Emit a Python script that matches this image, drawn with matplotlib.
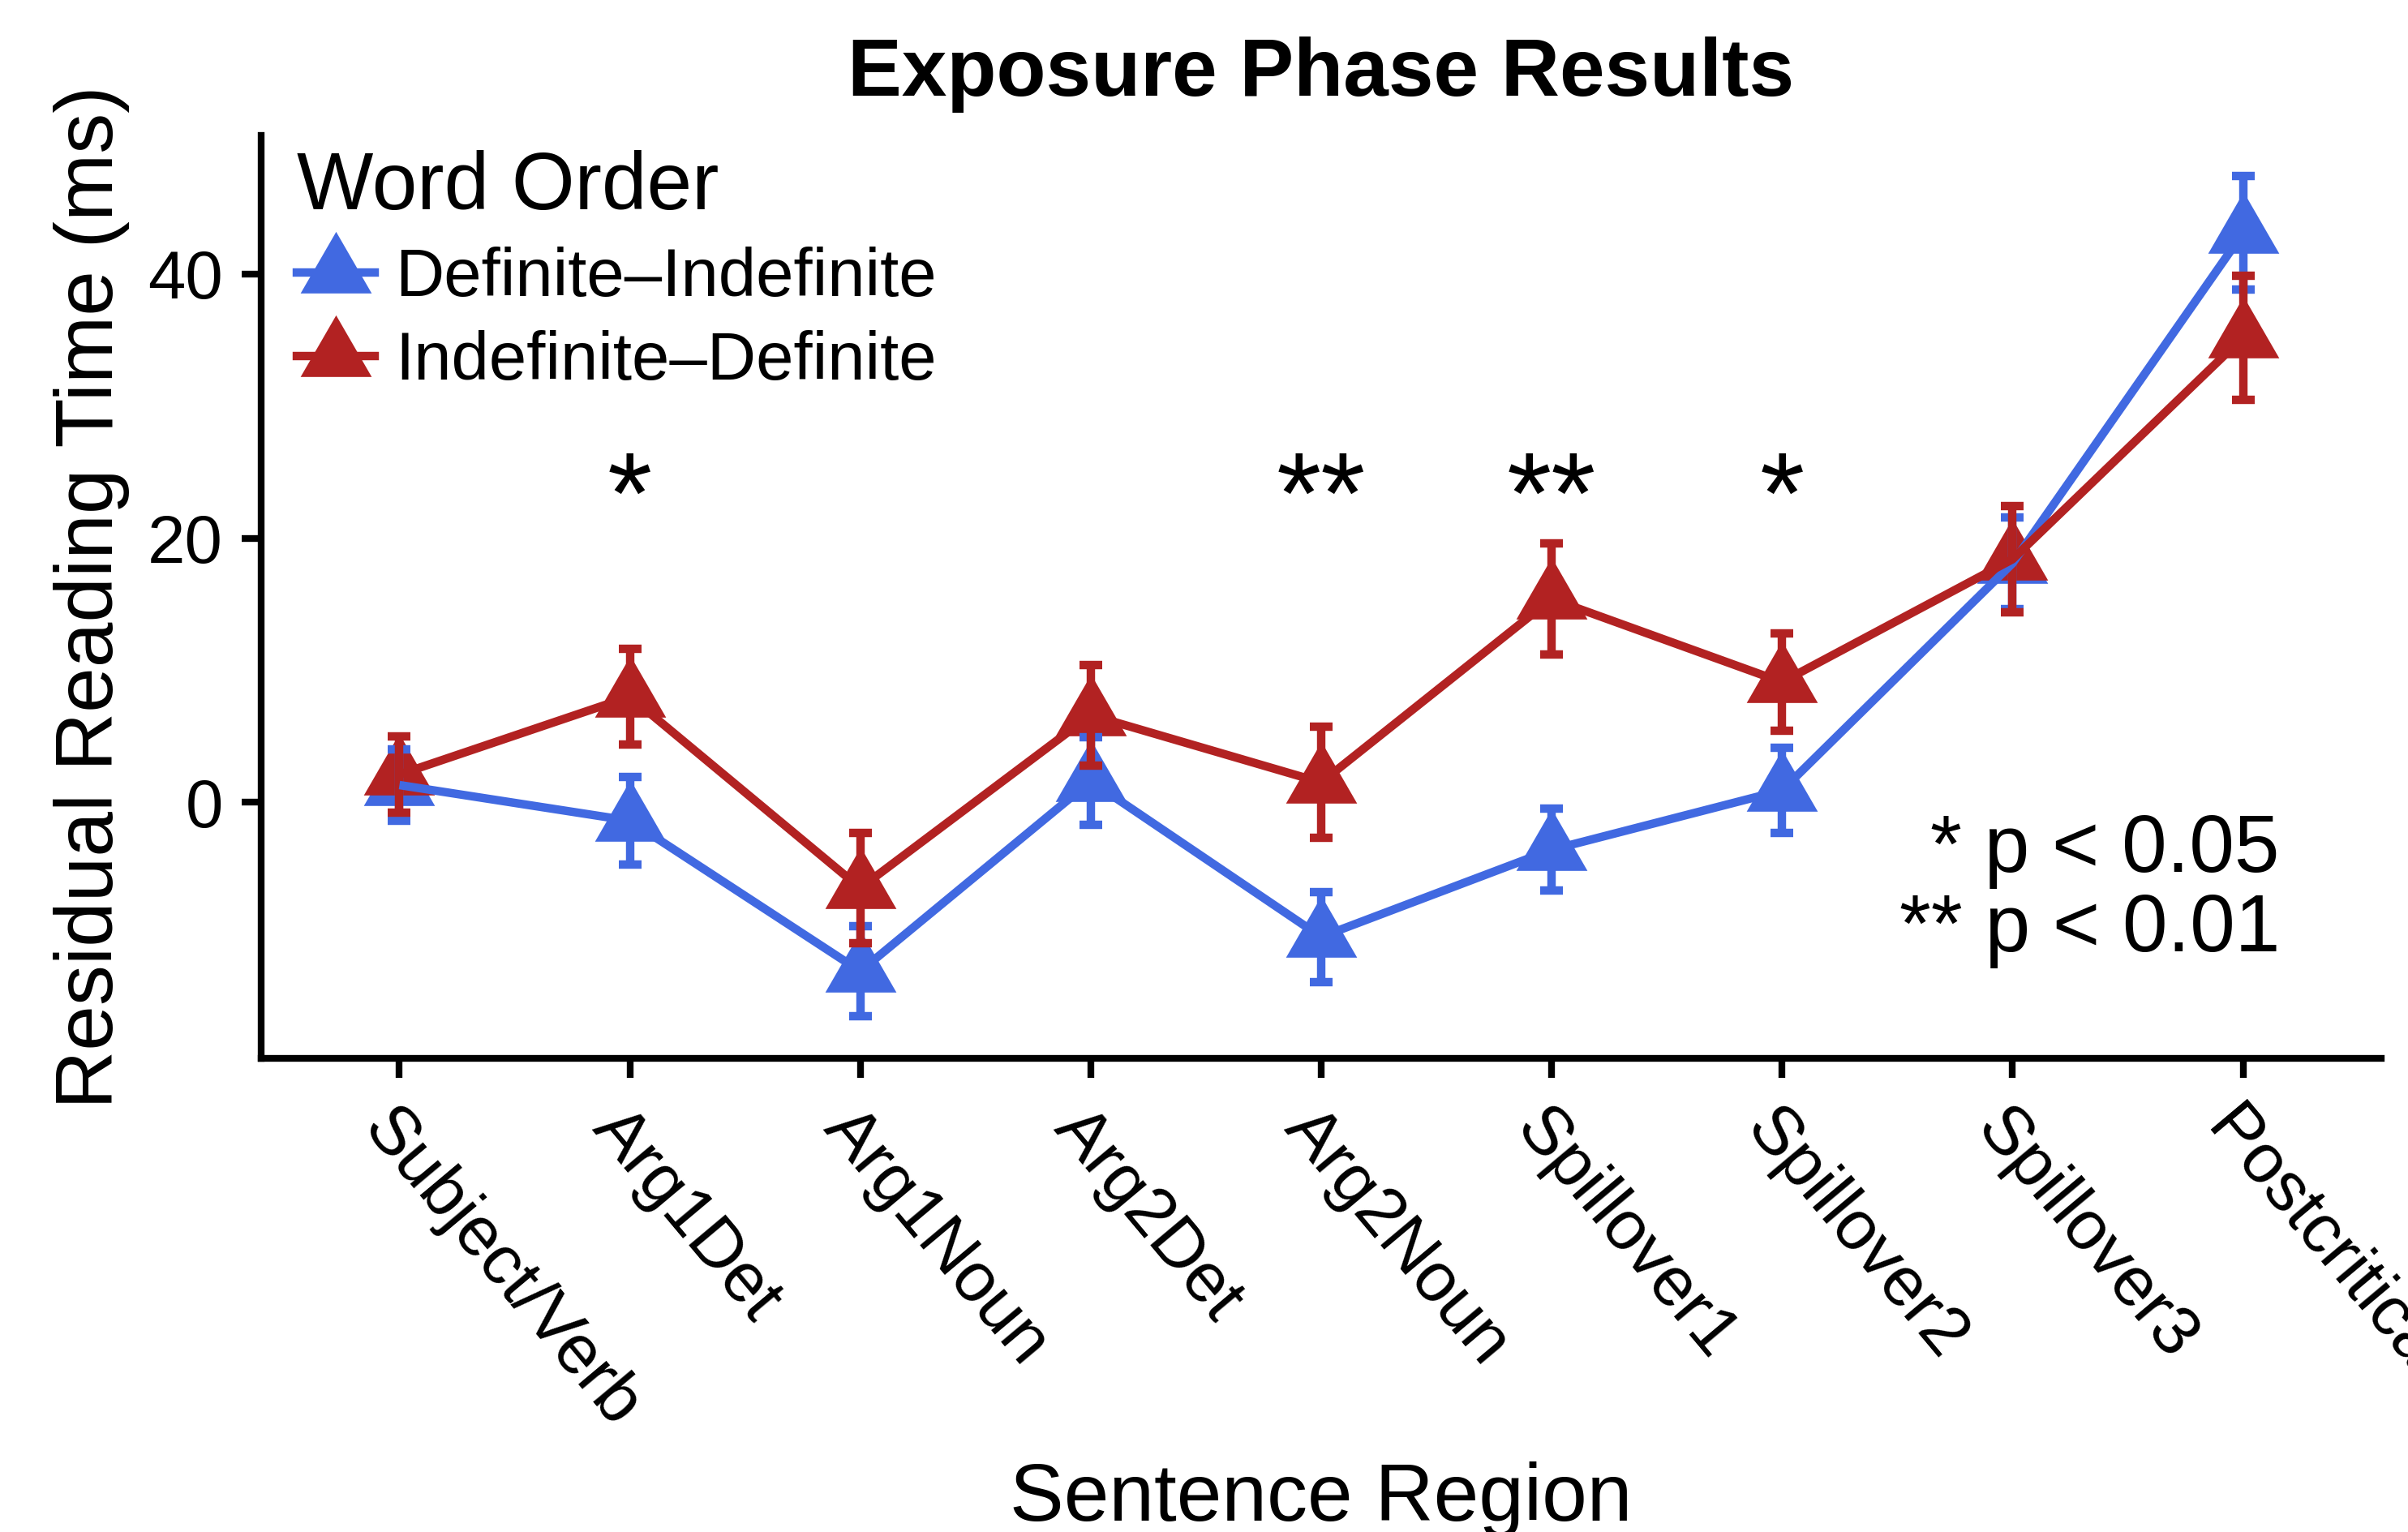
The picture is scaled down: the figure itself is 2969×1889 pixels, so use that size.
import numpy as np
import matplotlib
matplotlib.use("Agg")
import matplotlib.pyplot as plt
from matplotlib.lines import Line2D
from matplotlib.path import Path

plt.rcParams['font.family'] = ['Liberation Sans', 'DejaVu Sans']

# ─── data ────────────────────────────────────────────────────────
regions = ['Subject/Verb', 'Arg1Det', 'Arg1Noun', 'Arg2Det', 'Arg2Noun',
           'Spillover1', 'Spillover2', 'Spillover3', 'Postcritical']
def_indef_mean = [1.3, -1.4, -12.8, 1.6, -10.2, -3.6, 0.9, 18.1, 43.1]
def_indef_se   = [2.7, 3.3, 3.4, 3.3, 3.4, 3.1, 3.2, 3.5, 4.3]
indef_def_mean = [2.1, 8.0, -6.5, 6.6, 1.5, 15.4, 9.1, 18.4, 35.2]
indef_def_se   = [2.9, 3.6, 4.2, 3.8, 4.2, 4.2, 3.7, 4.0, 4.7]
series_names   = ['Definite–Indefinite', 'Indefinite–Definite']
colors         = ['#4169E1', '#B22222']     # royalblue, firebrick

sig_regions = ['Arg1Det', 'Arg2Noun', 'Spillover1', 'Spillover2']
sig_labels  = ['*', '**', '**', '*']
sig_y       = 22.7

# ─── figure / axes ───────────────────────────────────────────────
W, H = 2969, 1889
fig = plt.figure(figsize=(W / 300, H / 300), dpi=300)
ax = fig.add_axes([322 / W, 1 - 1305 / H, (2936 - 322) / W, (1305 - 167) / H])

# equilateral triangle (R pch 17), centroid on the data point
tri = Path([(0, 1.1547), (-1, -0.5774), (1, -0.5774), (0, 1.1547)],
           [Path.MOVETO, Path.LINETO, Path.LINETO, Path.CLOSEPOLY])
msize = 24.3

x = np.arange(len(regions))
lw = 2.5
means = [def_indef_mean, indef_def_mean]
ses   = [def_indef_se, indef_def_se]

for k, (m, s, c) in enumerate(zip(means, ses, colors)):
    ax.plot(x, m, linestyle='none', marker=tri, markersize=msize,
            color=c, markeredgewidth=0, zorder=2 + 0.1 * k)
    ax.errorbar(x, m, yerr=s, fmt='none', ecolor=c, elinewidth=lw,
                capsize=3.4, capthick=lw, zorder=3 + 0.1 * k)
    ax.plot(x, m, color=c, linewidth=lw, solid_capstyle='butt',
            zorder=4 + 0.1 * k)

for reg, lab in zip(sig_regions, sig_labels):
    ax.text(regions.index(reg), sig_y, lab, fontsize=34,
            ha='center', va='center')

ax.text(8.16, -5.3, '* p < 0.05', fontsize=24, ha='right', va='baseline')
ax.text(8.16, -11.3, '** p < 0.01', fontsize=24, ha='right', va='baseline')

ax.set_xlim(-0.6, 8.6)
ax.set_ylim(-19.4, 50.5)
ax.set_yticks([0, 20, 40])
ax.set_xticks(x)
ax.set_xticklabels(regions, rotation=-50, ha='left', va='top',
                   rotation_mode='anchor')

for side in ['top', 'right']:
    ax.spines[side].set_visible(False)
for side in ['left', 'bottom']:
    ax.spines[side].set_linewidth(2)
ax.tick_params(axis='both', length=5.8, width=2, labelsize=20,
               color='black', labelcolor='black')
ax.tick_params(axis='x', labelsize=20.5, pad=5.5)
ax.tick_params(axis='y', pad=5.5)

# ─── titles ──────────────────────────────────────────────────────
fig.text(1629 / W, 1 - 118 / H, 'Exposure Phase Results', fontsize=24,
         fontweight='bold', ha='center', va='baseline')
fig.text(1629 / W, 1 - 1875 / H, 'Sentence Region', fontsize=24,
         ha='center', va='baseline')
fig.text(139 / W, 1 - 736 / H, 'Residual Reading Time (ms)', fontsize=24,
         rotation=90, rotation_mode='anchor', ha='center', va='baseline')

# ─── legend ──────────────────────────────────────────────────────
handles = [Line2D([], [], color=c, linewidth=lw, marker=tri,
                  markersize=msize, markeredgewidth=0) for c in colors]
leg = ax.legend(handles, series_names, title='Word Order', fontsize=20,
                title_fontsize=24, loc='upper left', frameon=False,
                bbox_to_anchor=(366 / W, 1 - 185 / H),
                bbox_transform=fig.transFigure, borderpad=0,
                borderaxespad=0, handlelength=1.15, handletextpad=0.3,
                labelspacing=0.3, alignment='left')

fig.savefig('out.png', dpi=300)
